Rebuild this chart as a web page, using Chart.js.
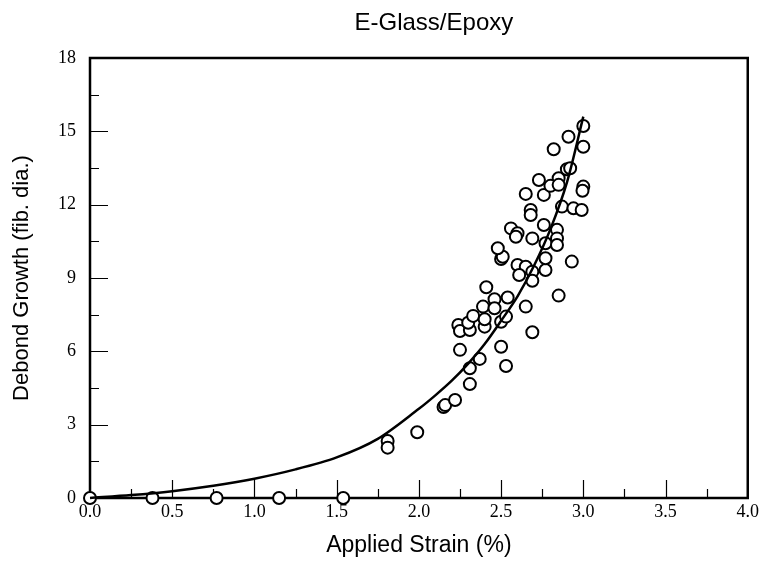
<!DOCTYPE html>
<html>
<head>
<meta charset="utf-8">
<title>E-Glass/Epoxy</title>
<script src="https://cdn.jsdelivr.net/npm/chart.js@4/dist/chart.umd.min.js"></script>
<style>
  html, body { margin: 0; padding: 0; background: #fff; }
  #wrap { width: 762px; height: 562px; position: relative; }
</style>
</head>
<body>
<div id="wrap"><canvas id="chart"></canvas></div>
<script>
// measured points: applied strain (%) vs debond growth (fiber diameters)
const strain = [
  0, 0.38, 0.77, 1.15, 1.54,
  1.81, 1.81, 1.99,
  2.15, 2.16, 2.22, 2.31, 2.31, 2.37, 2.53, 2.25, 2.50, 2.69,
  2.24, 2.25, 2.31, 2.30, 2.33, 2.40, 2.40, 2.39, 2.41, 2.46, 2.46, 2.50, 2.53, 2.54, 2.65, 2.85,
  2.60, 2.65, 2.69, 2.77, 2.93, 2.50, 2.51, 2.61, 2.69,
  2.48, 2.56, 2.60, 2.59, 2.69, 2.76, 2.68, 2.68, 2.87, 2.94, 2.99, 2.84, 2.84, 2.77, 2.84, 2.77,
  2.65, 2.76, 2.73, 2.85, 2.80, 2.85, 2.90, 2.92, 3.00, 2.995, 2.82, 3.00, 2.91, 3.00
];
const debond = [
  0, 0, 0, 0, 0,
  2.33, 2.06, 2.69,
  3.72, 3.80, 4.01, 4.66, 5.31, 5.69, 5.40, 6.06, 6.19, 6.78,
  7.08, 6.83, 6.87, 7.17, 7.45, 7.01, 7.31, 7.83, 8.62, 8.13, 7.76, 7.21, 7.42, 8.20, 7.83, 8.28,
  9.53, 9.46, 9.26, 9.33, 9.67, 9.78, 9.87, 9.12, 8.89,
  10.22, 11.03, 10.83, 10.69, 10.62, 11.17, 11.78, 11.58, 11.92, 11.85, 11.78, 10.97, 10.62, 10.42, 10.35, 9.81,
  12.44, 12.40, 13.01, 13.08, 12.77, 12.81, 13.45, 13.49, 12.74, 12.57, 14.27, 14.37, 14.78, 15.22
];

// fitted curve
const fitStrain = [0, 0.25, 0.5, 0.75, 1.0, 1.25, 1.5, 1.75, 2.0, 2.1, 2.2, 2.3, 2.4, 2.5, 2.6, 2.7, 2.8, 2.9, 3.0];
const fitDebond = [0, 0.12, 0.28, 0.5, 0.79, 1.17, 1.66, 2.42, 3.65, 4.2, 4.8, 5.5, 6.3, 7.25, 8.25, 9.5, 11.0, 12.9, 15.6];

const chartTitle = 'E-Glass/Epoxy';
const xLabel = 'Applied Strain (%)';
const yLabel = 'Debond Growth (fib. dia.)';

const sans = '"Liberation Sans", Arial, sans-serif';
const serif = '"Liberation Serif", "Times New Roman", serif';

// frame box, inward tick marks and the title
const frameAndTicks = {
  id: 'frameAndTicks',
  beforeDatasetsDraw(chart) {
    const { ctx, chartArea: a, scales: { x, y } } = chart;
    ctx.save();
    ctx.strokeStyle = '#000';
    ctx.lineWidth = 1.2;
    ctx.beginPath();
    for (let v = 0.25; v < 4; v += 0.25) {
      const px = Math.round(x.getPixelForValue(v)) + 0.5;
      const len = Math.abs(v % 0.5) < 1e-6 ? 18 : 9;
      ctx.moveTo(px, a.bottom);
      ctx.lineTo(px, a.bottom - len);
    }
    for (let v = 1.5; v < 18; v += 1.5) {
      const py = Math.round(y.getPixelForValue(v)) + 0.5;
      const len = Math.abs(v % 3) < 1e-6 ? 18 : 9;
      ctx.moveTo(a.left, py);
      ctx.lineTo(a.left + len, py);
    }
    ctx.stroke();
    ctx.lineWidth = 2.5;
    ctx.strokeRect(a.left, a.top, a.right - a.left, a.bottom - a.top);
    ctx.restore();
  },
  afterDraw(chart) {
    const { ctx, chartArea: a } = chart;
    ctx.save();
    ctx.fillStyle = '#000';
    ctx.font = '24px ' + sans;
    ctx.textAlign = 'center';
    ctx.textBaseline = 'middle';
    ctx.fillText(chartTitle, (a.left + a.right) / 2 + 15, 23);
    ctx.restore();
  }
};

new Chart(document.getElementById('chart'), {
  type: 'scatter',
  data: {
    datasets: [
      {
        label: 'fit',
        data: fitStrain.map((s, i) => ({ x: s, y: fitDebond[i] })),
        showLine: true,
        borderColor: '#000',
        borderWidth: 2.5,
        pointRadius: 0,
        tension: 0.3,
        clip: false,
        order: 1
      },
      {
        label: 'data',
        data: strain.map((s, i) => ({ x: s, y: debond[i] })),
        pointRadius: 6,
        pointBorderWidth: 2,
        pointBackgroundColor: '#fff',
        pointBorderColor: '#000',
        clip: false,
        order: 2
      }
    ]
  },
  options: {
    responsive: true,
    maintainAspectRatio: false,
    animation: false,
    layout: { padding: { top: 58, right: 11, left: 0, bottom: 0 } },
    plugins: {
      legend: { display: false },
      title: { display: false },
      tooltip: { enabled: false }
    },
    scales: {
      x: {
        type: 'linear',
        min: 0,
        max: 4,
        afterFit(scale) { scale.height = 64; },
        grid: { drawOnChartArea: false, drawTicks: false },
        border: { display: false },
        ticks: {
          stepSize: 0.5,
          padding: 3,
          color: '#000',
          font: { family: serif, size: 18 },
          callback: v => v.toFixed(1)
        },
        title: {
          display: true,
          text: xLabel,
          color: '#000',
          font: { family: sans, size: 23 },
          padding: { top: 0, bottom: 3 }
        }
      },
      y: {
        type: 'linear',
        min: 0,
        max: 18,
        afterFit(scale) { scale.width = 90; },
        grid: { drawOnChartArea: false, drawTicks: false },
        border: { display: false },
        ticks: {
          stepSize: 3,
          padding: 14,
          color: '#000',
          font: { family: serif, size: 18 }
        },
        title: {
          display: true,
          text: yLabel,
          color: '#000',
          font: { family: sans, size: 22 },
          padding: { top: 9, bottom: 0 }
        }
      }
    }
  },
  plugins: [frameAndTicks]
});
</script>
</body>
</html>
